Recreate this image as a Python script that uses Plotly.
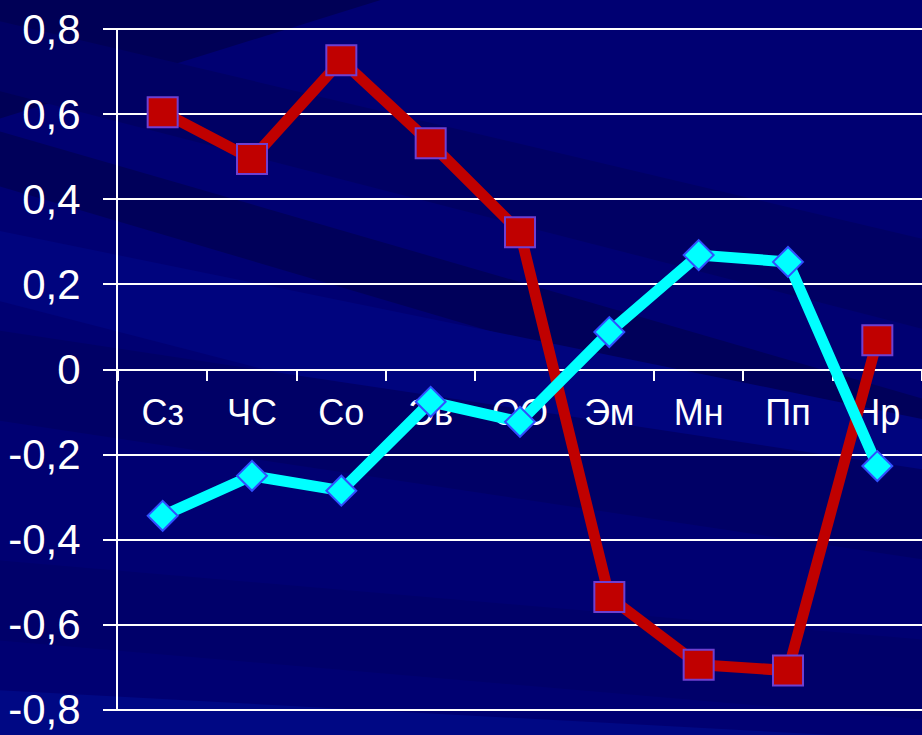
import plotly.graph_objects as go

categories = ["Сз", "ЧС", "Со", "Эв", "ОО", "Эм", "Мн", "Пп", "Нр"]
series_red = [0.605, 0.495, 0.727, 0.532, 0.323, -0.535, -0.694, -0.708, 0.069]
series_cyan = [-0.344, -0.250, -0.285, -0.076, -0.123, 0.088, 0.269, 0.253, -0.227]
y_tick_values = [-0.8, -0.6, -0.4, -0.2, 0, 0.2, 0.4, 0.6, 0.8]
y_tick_labels = ["-0,8", "-0,6", "-0,4", "-0,2", "0", "0,2", "0,4", "0,6", "0,8"]

W, H = 922, 735
L, R, T, B = 118, 0, 28, 24
PW, PH = W - L - R, H - T - B

def px_to_paper(x, y):
    return (x - L) / PW, (H - B - y) / PH

def band(left_top, left_bot, right_top, right_bot, color):
    pts = [(-5, left_top), (W + 5, right_top), (W + 5, right_bot), (-5, left_bot)]
    conv = [px_to_paper(x, y) for x, y in pts]
    path = "M " + " L ".join(f"{a:.4f},{b:.4f}" for a, b in conv) + " Z"
    return dict(type="path", path=path, xref="paper", yref="paper",
                fillcolor=color, line=dict(width=0), layer="below")

shapes = [
    band(-600, 120, -900, -170, "#000056"),
    band(20, 90, 240, 330, "#000064"),
    band(130, 185, 400, 460, "#00005a"),
    band(230, 300, 420, 540, "#00047e"),
    band(330, 420, 470, 560, "#000066"),
    band(560, 640, 640, 720, "#00006a"),
    band(690, 800, 740, 800, "#000884"),
]

fig = go.Figure()
fig.add_trace(go.Scatter(
    x=categories, y=series_red, mode="lines+markers",
    line=dict(color="#c00000", width=11),
    marker=dict(symbol="square", size=30, color="#c00000",
                line=dict(color="#6f3fd0", width=2)),
    cliponaxis=False,
))
fig.add_trace(go.Scatter(
    x=categories, y=series_cyan, mode="lines+markers",
    line=dict(color="#00ffff", width=11),
    marker=dict(symbol="diamond", size=23, color="#00ffff",
                line=dict(color="#3050ff", width=2)),
    cliponaxis=False,
))

fig.update_layout(
    width=W, height=H,
    margin=dict(l=L, r=R, t=T, b=B, autoexpand=False),
    paper_bgcolor="#000072",
    plot_bgcolor="rgba(0,0,0,0)",
    showlegend=False,
    hovermode=False,
    shapes=shapes,
    font=dict(family="Liberation Sans, Arial, sans-serif", color="white"),
    xaxis=dict(
        type="category", range=[-0.5, 8.5],
        anchor="free", position=0.5,
        showgrid=False, showline=False,
        ticks="outside", tickson="boundaries", ticklen=10, tickwidth=2,
        tickcolor="white", tickfont=dict(size=36, color="white"),
        ticklabelstandoff=18,
        layer="below traces",
    ),
    yaxis=dict(
        range=[-0.803, 0.803],
        tickvals=y_tick_values, ticktext=y_tick_labels,
        showgrid=True, gridcolor="white", gridwidth=2,
        zeroline=True, zerolinecolor="white", zerolinewidth=2,
        showline=True, linecolor="white", linewidth=2,
        ticks="outside", ticklen=13, tickwidth=2, tickcolor="white",
        tickfont=dict(size=42, color="white"),
        ticklabelstandoff=14,
        layer="below traces",
    ),
)

fig.write_html(
    "out.html",
    config={"displayModeBar": False, "staticPlot": True},
    post_script="document.body.style.margin='0';document.body.style.background='#000072';document.body.style.overflow='hidden';",
)
